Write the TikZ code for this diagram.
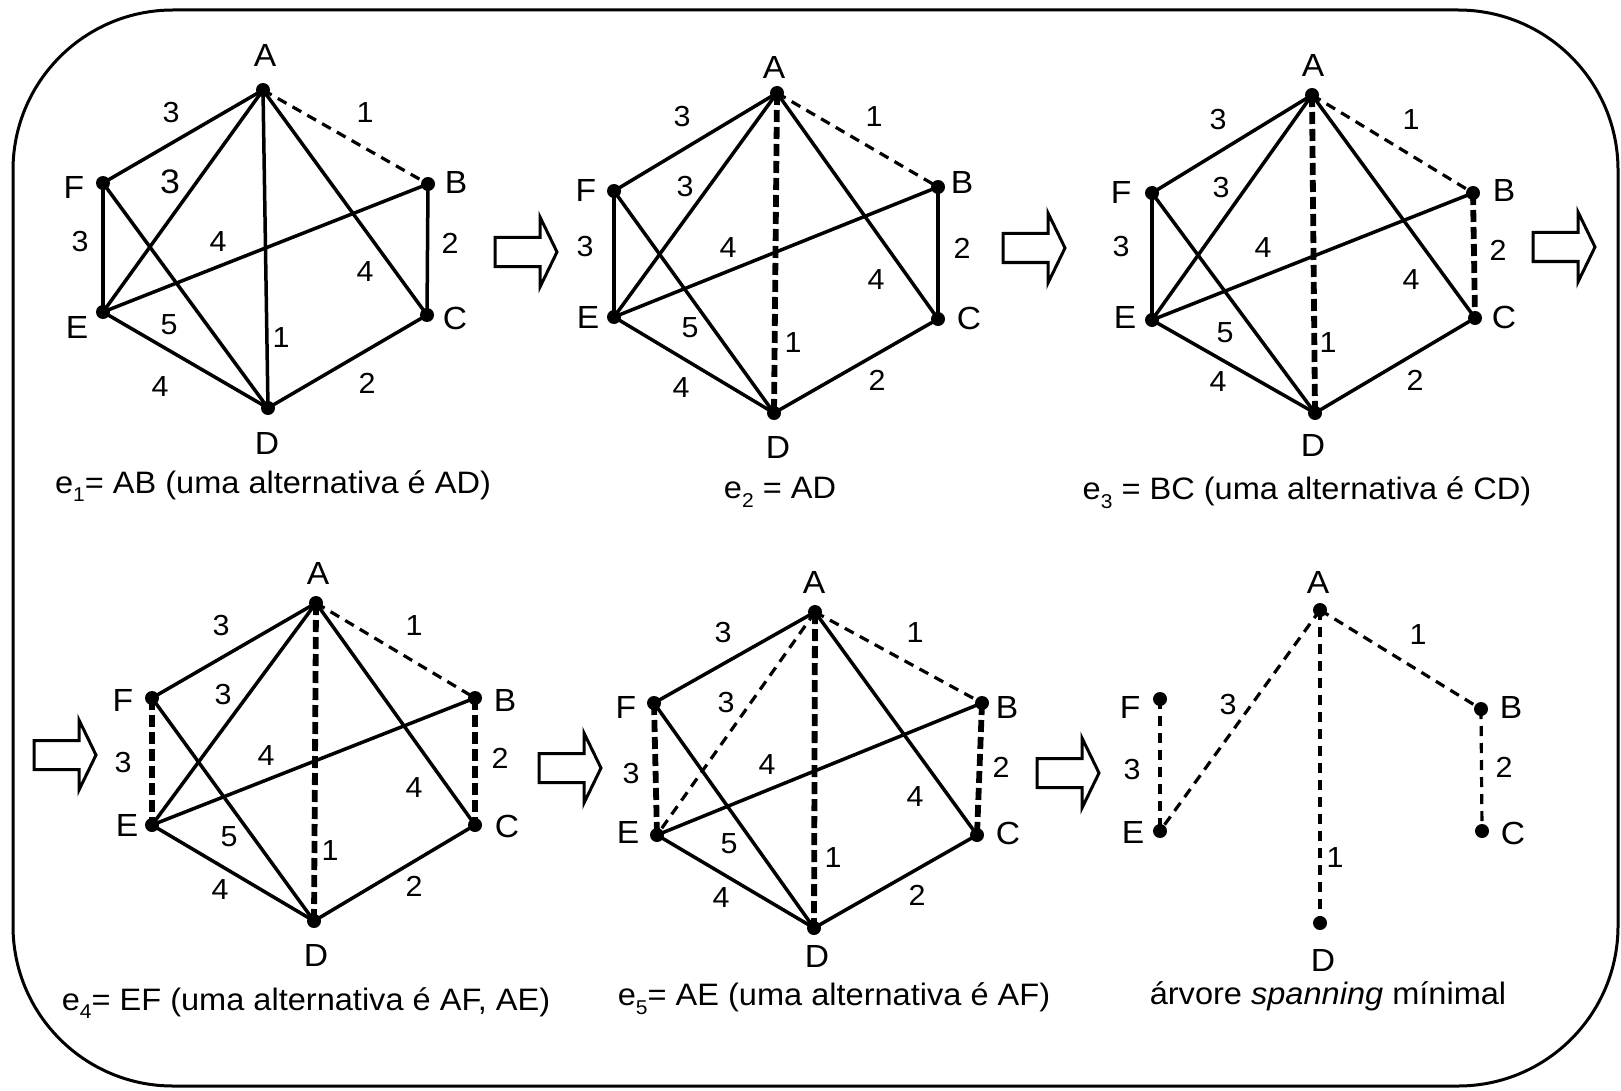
\documentclass[tikz,border=0pt]{standalone}
\usepackage{fontspec}
\setmainfont{Liberation Sans}[FakeStretch=1.05]
\newcommand\lowidx[1]{\raisebox{-0.28em}{\fontsize{20}{20}\selectfont #1}}
\newcommand\drawgraphedges[6]{%
 \draw[#2] (A#1.center) -- (B#1.center);
 \draw[#3] (A#1.center) -- (D#1.center);
 \draw[#4] (B#1.center) -- (C#1.center);
 \draw[#5] (F#1.center) -- (E#1.center);
 \draw[#6] (A#1.center) -- (E#1.center);
 \draw[sol] (A#1.center) -- (F#1.center);
 \draw[sol] (A#1.center) -- (C#1.center);
 \draw[sol] (F#1.center) -- (D#1.center);
 \draw[sol] (E#1.center) -- (B#1.center);
 \draw[sol] (E#1.center) -- (D#1.center);
 \draw[sol] (D#1.center) -- (C#1.center);
}
\tikzset{
 dot/.style={circle, fill=black, inner sep=0pt, minimum size=14pt},
 sol/.style={line width=3.5pt},
 thd/.style={line width=3.2pt, dash pattern=on 10pt off 7pt},
 tkd/.style={line width=5.8pt, dash pattern=on 12pt off 5pt},
 vlab/.style={font=\fontsize{32}{32}\selectfont, inner sep=0pt},
 wlab/.style={font=\fontsize{29}{29}\selectfont, inner sep=0pt},
 capt/.style={font=\fontsize{31}{31}\selectfont, inner sep=0pt},
 boxframe/.style={line width=3pt, rounded corners=160pt},
 arrowline/.style={line width=3pt, line join=miter},
 fatarrow/.pic={\draw[arrowline] (0,-14.5) -- (45,-14.5) -- (45,-35) -- (62,0) -- (45,35) -- (45,14.5) -- (0,14.5) -- cycle;},
}
\begin{document}
\begin{tikzpicture}[x=1pt,y=-1pt]
\useasboundingbox (0,0) rectangle (1621,1091);
\draw[boxframe] (13,10) rectangle (1618,1086);

% arrows
\pic (ar1) at (495,252) {fatarrow};
\pic (ar2) at (1003,248) {fatarrow};
\pic (ar3) at (1533,247) {fatarrow};
\pic (ar4) at (34,755) {fatarrow};
\pic (ar5) at (539,768) {fatarrow};
\pic (ar6) at (1037,773) {fatarrow};

% ===== graph 1 =====
\node[dot] (A1) at (263,90) {};
\node[dot] (B1) at (428,184) {};
\node[dot] (C1) at (427,315) {};
\node[dot] (D1) at (268,408) {};
\node[dot] (E1) at (103,312) {};
\node[dot] (F1) at (103,183) {};
\drawgraphedges{1}{thd}{sol}{sol}{sol}{sol}
\node[vlab] (lA1) at (265,55) {A};
\node[vlab] (lB1) at (456,182) {B};
\node[vlab] (lC1) at (455,318) {C};
\node[vlab] (lD1) at (267,443) {D};
\node[vlab] (lE1) at (77,327) {E};
\node[vlab] (lF1) at (74,187) {F};
\node[wlab] (w1af) at (171,113) {3};
\node[wlab] (w1ab) at (365,113) {1};
\node[wlab, font=\fontsize{34}{34}\selectfont] (w1ae) at (170,182) {3};
\node[wlab] (w1fe) at (80,242) {3};
\node[wlab] (w1eb) at (218,242) {4};
\node[wlab] (w1bc) at (450,243) {2};
\node[wlab] (w1ac) at (365,272) {4};
\node[wlab] (w1fd) at (169,325) {5};
\node[wlab] (w1ad) at (281,338) {1};
\node[wlab] (w1ed) at (160,387) {4};
\node[wlab] (w1dc) at (367,383) {2};
\node[capt] (cap1) at (273,486) {e\lowidx{1}= AB (uma alternativa é AD)};

% ===== graph 2 =====
\node[dot] (A2) at (777,93) {};
\node[dot] (B2) at (938,187) {};
\node[dot] (C2) at (938,319) {};
\node[dot] (D2) at (774,413) {};
\node[dot] (E2) at (614,317) {};
\node[dot] (F2) at (614,191) {};
\drawgraphedges{2}{thd}{tkd}{sol}{sol}{sol}
\node[vlab] (lA2) at (774,67) {A};
\node[vlab] (lB2) at (962,182) {B};
\node[vlab] (lC2) at (969,318) {C};
\node[vlab] (lD2) at (778,447) {D};
\node[vlab] (lE2) at (588,317) {E};
\node[vlab] (lF2) at (586,190) {F};
\node[wlab] (w2af) at (682,117) {3};
\node[wlab] (w2ab) at (874,117) {1};
\node[wlab] (w2ae) at (685,187) {3};
\node[wlab] (w2fe) at (585,247) {3};
\node[wlab] (w2eb) at (728,248) {4};
\node[wlab] (w2bc) at (962,248) {2};
\node[wlab] (w2ac) at (876,280) {4};
\node[wlab] (w2fd) at (690,328) {5};
\node[wlab] (w2ad) at (793,343) {1};
\node[wlab] (w2ed) at (681,388) {4};
\node[wlab] (w2dc) at (877,380) {2};
\node[capt] (cap2) at (780,492) {e\lowidx{2} = AD};

% ===== graph 3 =====
\node[dot] (A3) at (1312,95) {};
\node[dot] (B3) at (1473,193) {};
\node[dot] (C3) at (1475,318) {};
\node[dot] (D3) at (1315,413) {};
\node[dot] (E3) at (1152,320) {};
\node[dot] (F3) at (1152,193) {};
\drawgraphedges{3}{thd}{tkd}{tkd}{sol}{sol}
\node[vlab] (lA3) at (1313,65) {A};
\node[vlab] (lB3) at (1504,190) {B};
\node[vlab] (lC3) at (1504,317) {C};
\node[vlab] (lD3) at (1313,445) {D};
\node[vlab] (lE3) at (1125,317) {E};
\node[vlab] (lF3) at (1121,192) {F};
\node[wlab] (w3af) at (1218,120) {3};
\node[wlab] (w3ab) at (1411,120) {1};
\node[wlab] (w3ae) at (1221,188) {3};
\node[wlab] (w3fe) at (1121,247) {3};
\node[wlab] (w3eb) at (1263,248) {4};
\node[wlab] (w3bc) at (1498,250) {2};
\node[wlab] (w3ac) at (1411,280) {4};
\node[wlab] (w3fd) at (1225,333) {5};
\node[wlab] (w3ad) at (1328,343) {1};
\node[wlab] (w3ed) at (1218,382) {4};
\node[wlab] (w3dc) at (1415,380) {2};
\node[capt] (cap3) at (1307,493) {e\lowidx{3} = BC (uma alternativa é CD)};

% ===== graph 4 =====
\node[dot] (A4) at (316,603) {};
\node[dot] (B4) at (475,698) {};
\node[dot] (C4) at (475,825) {};
\node[dot] (D4) at (314,921) {};
\node[dot] (E4) at (152,825) {};
\node[dot] (F4) at (152,698) {};
\drawgraphedges{4}{thd}{tkd}{tkd}{tkd}{sol}
\node[vlab] (lA4) at (318,573) {A};
\node[vlab] (lB4) at (505,700) {B};
\node[vlab] (lC4) at (507,826) {C};
\node[vlab] (lD4) at (316,955) {D};
\node[vlab] (lE4) at (127,825) {E};
\node[vlab] (lF4) at (123,700) {F};
\node[wlab] (w4af) at (221,626) {3};
\node[wlab] (w4ab) at (414,626) {1};
\node[wlab] (w4ae) at (223,695) {3};
\node[wlab] (w4fe) at (123,763) {3};
\node[wlab] (w4eb) at (266,756) {4};
\node[wlab] (w4bc) at (500,758) {2};
\node[wlab] (w4ac) at (414,788) {4};
\node[wlab] (w4fd) at (229,837) {5};
\node[wlab] (w4ad) at (330,851) {1};
\node[wlab] (w4ed) at (220,890) {4};
\node[wlab] (w4dc) at (414,886) {2};
\node[capt] (cap4) at (306,1003) {e\lowidx{4}= EF (uma alternativa é AF, AE)};

% ===== graph 5 =====
\node[dot] (A5) at (815,612) {};
\node[dot] (B5) at (982,703) {};
\node[dot] (C5) at (977,835) {};
\node[dot] (D5) at (814,928) {};
\node[dot] (E5) at (657,835) {};
\node[dot] (F5) at (654,703) {};
\drawgraphedges{5}{thd}{tkd}{tkd}{tkd}{thd}
\node[vlab] (lA5) at (814,582) {A};
\node[vlab] (lB5) at (1007,707) {B};
\node[vlab] (lC5) at (1008,833) {C};
\node[vlab] (lD5) at (817,956) {D};
\node[vlab] (lE5) at (628,832) {E};
\node[vlab] (lF5) at (626,707) {F};
\node[wlab] (w5af) at (723,633) {3};
\node[wlab] (w5ab) at (915,633) {1};
\node[wlab] (w5ae) at (726,703) {3};
\node[wlab] (w5fe) at (631,774) {3};
\node[wlab] (w5eb) at (767,765) {4};
\node[wlab] (w5bc) at (1001,767) {2};
\node[wlab] (w5ac) at (915,797) {4};
\node[wlab] (w5fd) at (729,844) {5};
\node[wlab] (w5ad) at (833,858) {1};
\node[wlab] (w5ed) at (721,898) {4};
\node[wlab] (w5dc) at (917,895) {2};
\node[capt] (cap5) at (834,999) {e\lowidx{5}= AE (uma alternativa é AF)};

% ===== graph 6 =====
\node[dot] (A6) at (1320,610) {};
\node[dot] (B6) at (1481,709) {};
\node[dot] (C6) at (1482,831) {};
\node[dot] (D6) at (1320,923) {};
\node[dot] (E6) at (1160,831) {};
\node[dot] (F6) at (1160,699) {};
\draw[thd] (A6.center) -- (B6.center);
\draw[thd] (A6.center) -- (E6.center);
\draw[thd] (A6.center) -- (D6.center);
\draw[thd] (F6.center) -- (E6.center);
\draw[thd] (B6.center) -- (C6.center);
\node[vlab] (lA6) at (1318,582) {A};
\node[vlab] (lB6) at (1511,707) {B};
\node[vlab] (lC6) at (1513,833) {C};
\node[vlab] (lD6) at (1323,960) {D};
\node[vlab] (lE6) at (1133,832) {E};
\node[vlab] (lF6) at (1130,707) {F};
\node[wlab] (w6ab) at (1418,635) {1};
\node[wlab] (w6ae) at (1228,705) {3};
\node[wlab] (w6fe) at (1132,770) {3};
\node[wlab] (w6bc) at (1504,767) {2};
\node[wlab] (w6ad) at (1335,858) {1};
\node[capt] (cap6) at (1328,996) {árvore \textit{spanning} mínimal};
\end{tikzpicture}
\end{document}
